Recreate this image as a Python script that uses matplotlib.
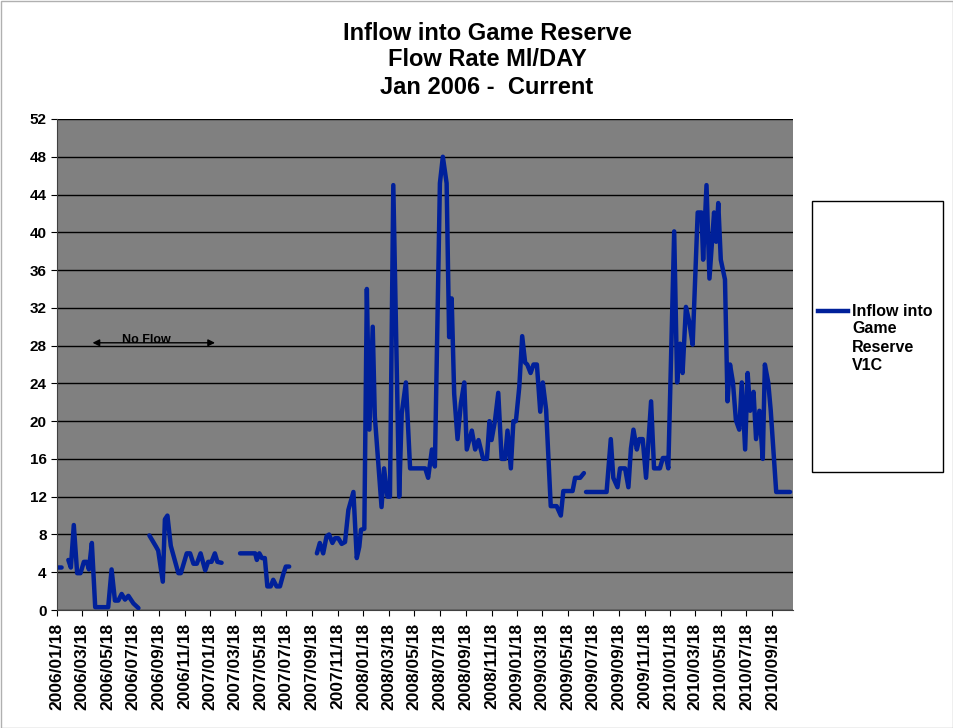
import numpy as np
import matplotlib
matplotlib.use("Agg")
import matplotlib.pyplot as plt
import matplotlib.dates as mdates
from matplotlib.patches import Rectangle
from matplotlib.lines import Line2D

plt.rcParams['font.family'] = ['Liberation Sans', 'DejaVu Sans']
plt.rcParams['font.weight'] = 'bold'

START = np.datetime64('2006-01-18')

# sample day (offset from START) and flow rate in Ml/day; NaN marks a gap in the record
day = [1, 11, np.nan,
       27, 33, 40, 48, 56, 64, 71, 76, 83, 91, 122, 130, 138, 146, 154, 162, 170, 182, 194, np.nan,
       220, 236, 241, 252, 257, 263, 271, 289, 295, 309, 317, 325, 333, 342, 353, 360, 368, 376, 382, 392, np.nan,
       436, 472, 476, 482, 488, 495, 501, 509, 515, 523, 531, 539, 545, 553, np.nan,
       619, 626, 634, 642, 648, 656, 662, 670, 678, 686, 694, 706, 714, 720, 724, 732, 738, 744, 752, 757,
       773, 779, 787, 793, 801, 815, 821, 831, 841, 877, 884, 893, 900, 912, 919, 928, 934, 940, 946, 954,
       962, 970, 976, 988, 996, 1004, 1015, 1024, 1030, 1035, 1043, 1051, 1059, 1067, 1073, 1081, 1087, 1093,
       1101, 1108, 1115, 1120, 1128, 1135, 1143, 1151, 1157, 1165, 1176, 1190, 1200, 1206, 1228, 1234, 1246,
       1255, np.nan,
       1260, 1309, 1319, 1325, 1335, 1341, 1353, 1361, 1367, 1373, 1381, 1387, 1395, 1403, 1415, 1422, 1436,
       1443, 1451, 1456, 1470, 1477, 1484, 1490, 1498, 1506, 1514, 1526, 1535, 1539, 1547, 1554, 1565, 1570,
       1575, 1581, 1591, 1597, 1603, 1610, 1617, 1625, 1631, 1639, 1645, 1651, 1659, 1665, 1673, 1681, 1686,
       1694, 1700, 1713, 1746]

flow = [4.5, 4.5, np.nan,
        5.3, 4.5, 9.0, 3.9, 3.9, 5.1, 5.1, 4.3, 7.1, 0.3, 0.3, 4.3, 1.0, 1.0, 1.7, 1.1, 1.5, 0.7, 0.2, np.nan,
        7.9, 6.7, 6.3, 3.0, 9.6, 10.0, 6.8, 3.9, 3.9, 6.0, 6.0, 4.9, 4.9, 6.0, 4.2, 5.1, 5.1, 6.0, 5.1, 5.0, np.nan,
        6.0, 6.0, 5.3, 6.0, 5.5, 5.5, 2.5, 2.5, 3.2, 2.5, 2.5, 3.8, 4.6, 4.6, np.nan,
        6.0, 7.1, 6.0, 7.8, 8.0, 7.1, 7.6, 7.6, 7.0, 7.2, 10.6, 12.5, 5.5, 6.7, 8.5, 8.6, 34.0, 19.1, 30.0, 20.5,
        10.9, 15.0, 12.0, 12.0, 45.0, 12.0, 20.8, 24.1, 15.0, 15.0, 14.0, 17.0, 15.2, 45.2, 48.0, 45.2, 28.9, 33.0,
        22.9, 18.1, 21.9, 24.1, 17.0, 19.0, 17.0, 18.0, 16.0, 16.0, 20.0, 18.0, 20.0, 23.0, 16.0, 16.0, 19.0, 15.0,
        20.0, 20.0, 23.6, 29.0, 26.2, 26.0, 25.1, 26.0, 26.0, 21.0, 24.1, 21.2, 11.0, 11.0, 10.0, 12.6, 12.6,
        14.0, 14.0, 14.5, np.nan,
        12.5, 12.5, 18.1, 14.0, 13.0, 15.0, 15.0, 13.0, 17.1, 19.1, 17.0, 18.1, 18.1, 14.0, 22.1, 15.0, 15.0,
        16.1, 16.1, 15.0, 40.1, 24.1, 28.2, 25.1, 32.1, 30.5, 28.1, 42.1, 42.1, 37.1, 45.0, 35.1, 42.1, 39.0,
        43.1, 37.1, 35.0, 22.1, 26.0, 24.1, 20.1, 19.1, 24.1, 17.0, 25.1, 21.1, 23.1, 18.1, 21.1, 16.0, 26.0,
        24.1, 21.1, 12.5, 12.5]

y_ticks = list(range(0, 53, 4))
title_lines = ['Inflow into Game Reserve', 'Flow Rate Ml/DAY', 'Jan 2006 -  Current']
series_name = ['Inflow into', 'Game', 'Reserve', 'V1C']


def to_dates(offsets):
    d = np.array(offsets, dtype=float)
    out = np.full(d.shape, np.datetime64('NaT'), dtype='datetime64[D]')
    ok = ~np.isnan(d)
    out[ok] = START + d[ok].astype(int)
    return out


W, H = 954, 728
fig = plt.figure(figsize=(W / 100, H / 100), dpi=100)
ax = fig.add_axes([57 / W, 1 - 610 / H, (793 - 57) / W, (610 - 119) / H])
ax.set_facecolor('#808080')

line_color = '#00209a'
dates = to_dates(day)
ax.plot(dates, np.array(flow, dtype=float), color=line_color, lw=3.2,
        solid_joinstyle='round', solid_capstyle='round')

ax.set_ylim(0, 52)
ax.set_yticks(y_ticks)
ax.set_xlim(START, START + np.timedelta64(1753, 'D'))
ax.xaxis.set_major_locator(mdates.MonthLocator(bymonth=(1, 3, 5, 7, 9, 11), bymonthday=18))
ax.xaxis.set_major_formatter(mdates.DateFormatter('%Y/%m/%d'))
for lab in ax.get_xticklabels():
    lab.set_rotation(90)

ax.tick_params(axis='both', direction='out', length=4, color='black')
ax.tick_params(axis='y', labelsize=11)
ax.tick_params(axis='x', labelsize=12.5, pad=5)
ax.grid(axis='y', color='black', lw=1.0)
ax.set_axisbelow(True)
for side in ('top', 'right'):
    ax.spines[side].set_visible(False)
ax.spines['left'].set_color('#404040')
ax.spines['bottom'].set_color('#404040')

# "No Flow" marker across the early period
ax.annotate('', xy=(START + np.timedelta64(78, 'D'), 28.3),
            xytext=(START + np.timedelta64(383, 'D'), 28.3),
            arrowprops=dict(arrowstyle='<|-|>', color='black', lw=1.0, mutation_scale=10))
ax.text(START + np.timedelta64(213, 'D'), 28.6, 'No Flow', ha='center', va='center',
        fontsize=9, fontweight='bold')

for i, txt in enumerate(title_lines):
    fig.text(487 / W, 1 - (33 + 27 * i) / H, txt, ha='center', va='center',
             fontsize=17, fontweight='bold')

# legend box
fig.add_artist(Rectangle((812 / W, 1 - 472 / H), (943 - 812) / W, (472 - 201) / H,
                         transform=fig.transFigure, fill=False, edgecolor='black', lw=1.0))
fig.add_artist(Line2D([818 / W, 848 / W], [1 - 311 / H, 1 - 311 / H], transform=fig.transFigure,
                      color=line_color, lw=3.2))
for i, txt in enumerate(series_name):
    fig.text(852 / W, 1 - (311 + 18 * i) / H, txt, ha='left', va='center', fontsize=11.5,
             fontweight='bold')

# chart area border
fig.add_artist(Rectangle((0.5 / W, 0.5 / H), 1 - 1.5 / W, 1 - 1.5 / H, transform=fig.transFigure,
                         fill=False, edgecolor='#b0b0b0', lw=1.0))

fig.savefig('out.png', dpi=100)
